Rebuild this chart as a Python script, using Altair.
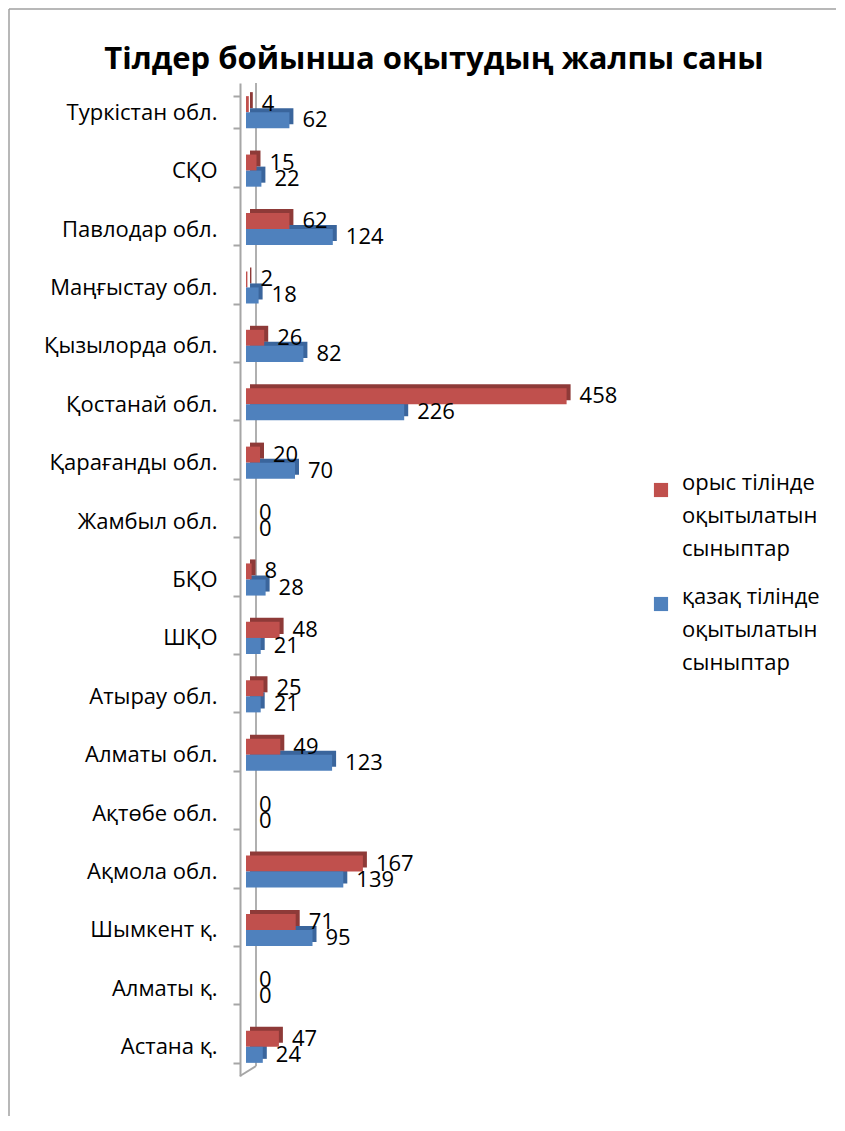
import altair as alt
import pandas as pd

regions = ["Туркістан обл.", "СҚО", "Павлодар обл.", "Маңғыстау обл.", "Қызылорда обл.",
           "Қостанай обл.", "Қарағанды обл.", "Жамбыл обл.", "БҚО", "ШҚО", "Атырау обл.",
           "Алматы обл.", "Ақтөбе обл.", "Ақмола обл.", "Шымкент қ.", "Алматы қ.", "Астана қ."]
russian = [4, 15, 62, 2, 26, 458, 20, 0, 8, 48, 25, 49, 0, 167, 71, 0, 47]
kazakh = [62, 22, 124, 18, 82, 226, 70, 0, 28, 21, 21, 123, 0, 139, 95, 0, 24]
series_names = ["орыс тілінде оқытылатын сыныптар", "қазақ тілінде оқытылатын сыныптар"]
legend_lines = [["орыс тілінде", "оқытылатын", "сыныптар"],
                ["қазақ тілінде", "оқытылатын", "сыныптар"]]
title_text = "Тілдер бойынша оқытудың жалпы саны"
colors = ["#C0504D", "#4F81BD"]
side_colors = ["#8E3A38", "#3A659C"]

rows = []
for r, a, b in zip(regions, russian, kazakh):
    rows.append({"region": r, "series": series_names[0], "value": a})
    rows.append({"region": r, "series": series_names[1], "value": b})
df = pd.DataFrame(rows)

W, H = 350, 993
PL, PT, PR, PB = 238, 75, 240, 40
FONT = "Open Sans"
BAND = H / len(regions) * (1 - 0.45)

y = alt.Y("region:N", sort=regions,
          scale=alt.Scale(paddingInner=0.45, paddingOuter=0.225),
          axis=alt.Axis(title=None, labelFont=FONT, labelFontSize=22, labelColor="black",
                        labelPadding=16, offset=6, domainColor="#A6A6A6", domainWidth=2,
                        tickColor="#A6A6A6", tickWidth=2, tickSize=7, tickBand="extent",
                        grid=False, labelLimit=300))
yoff = alt.YOffset("series:N", sort=series_names, scale=alt.Scale(range=[0, BAND]))
yoff_side = alt.YOffset("series:N", sort=series_names, scale=alt.Scale(range=[-4, BAND - 4]))
x = alt.X("value:Q", scale=alt.Scale(domain=[0, 500]), axis=None)

label_expr = " : ".join(
    [f"datum.label == '{series_names[0]}' ? {legend_lines[0]!r}", f"{legend_lines[1]!r}"])

one = pd.DataFrame({"k": [0]})

frame_left = alt.Chart(one).mark_rule(color="#A0A0A0", strokeWidth=1.5).encode(
    x=alt.value(-PL + 1), y=alt.value(-PT + 1), y2=alt.value(H + PB))
frame_top = alt.Chart(one).mark_rule(color="#A0A0A0", strokeWidth=1.5).encode(
    x=alt.value(-PL + 1), x2=alt.value(W + PR), y=alt.value(-PT + 1))
back_wall = alt.Chart(one).mark_rule(color="#B0B0B0", strokeWidth=2).encode(
    x=alt.value(10), y=alt.value(0), y2=alt.value(H - 10))
floor = alt.Chart(one).mark_rule(color="#A6A6A6", strokeWidth=2).encode(
    x=alt.value(-6), y=alt.value(H), x2=alt.value(10), y2=alt.value(H - 10))

side = alt.Chart(df).mark_bar(xOffset=4).encode(
    x=x, y=y, yOffset=yoff_side,
    color=alt.condition(alt.datum.series == series_names[0],
                        alt.value(side_colors[0]), alt.value(side_colors[1])))

bars = alt.Chart(df).mark_bar().encode(
    x=x, y=y, yOffset=yoff,
    color=alt.Color("series:N",
                    scale=alt.Scale(domain=series_names, range=colors),
                    legend=alt.Legend(title=None, orient="none", legendX=404, legendY=396,
                                      symbolType="square", symbolSize=200,
                                      symbolStrokeWidth=0,
                                      labelFont=FONT, labelFontSize=22, labelColor="black",
                                      labelLimit=300, labelExpr=label_expr,
                                      labelBaseline="alphabetic", labelOffset=10,
                                      rowPadding=26)))

labels = alt.Chart(df).mark_text(align="left", baseline="middle", dx=13,
                                 font=FONT, fontSize=22, color="black").encode(
    x=x, y=y, yOffset=yoff, text="value:Q")

chart = alt.layer(frame_left, frame_top, back_wall, floor, side, bars, labels).resolve_scale(
    yOffset="independent"
).properties(
    width=W, height=H,
    autosize=alt.AutoSizeParams(type="none"),
    padding={"left": PL, "top": PT, "right": PR, "bottom": PB},
    title=alt.TitleParams(title_text, font=FONT, fontSize=31, fontWeight="bold",
                          anchor="middle", dx=13, offset=-92, baseline="alphabetic",
                          color="black"),
).configure(
    background="white",
    style={"guide-label": {"lineHeight": 33}},
).configure_view(stroke=None)

chart.save("out.html", embed_options={"renderer": "svg", "actions": False})
